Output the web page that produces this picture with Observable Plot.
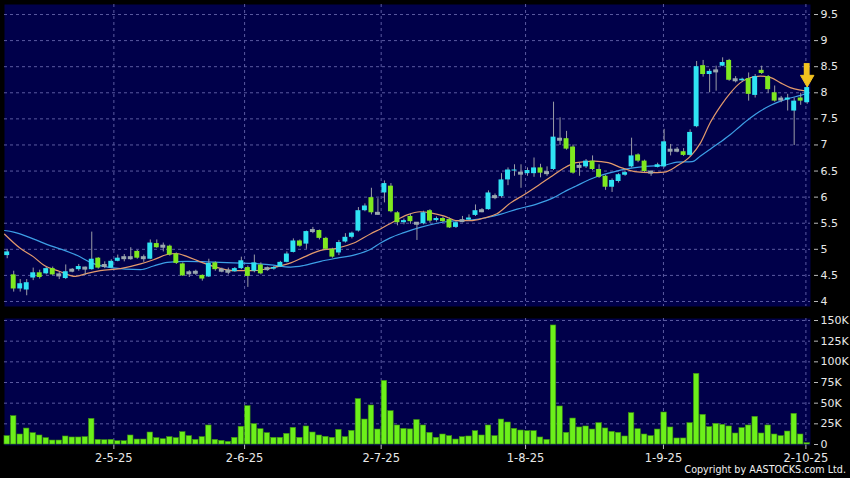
<!DOCTYPE html>
<html><head><meta charset="utf-8">
<script src="https://cdn.jsdelivr.net/npm/d3@7"></script>
<script src="https://cdn.jsdelivr.net/npm/@observablehq/plot@0.6"></script>
<style>
html,body{margin:0;padding:0;background:#000;}
#chart{position:relative;width:850px;height:478px;background:#000;overflow:hidden}
#chart svg{display:block}
#copy{position:absolute;right:4px;top:464px;color:#f2f2f2;font:9.6px "DejaVu Sans";white-space:nowrap}
</style></head>
<body><div id="chart"><div id="copy">Copyright by AASTOCKS.com Ltd.</div></div>
<script>
// ---- data ----
const opens = [4.88,4.51,4.24,4.22,4.45,4.55,4.53,4.63,4.50,4.44,4.59,4.61,4.63,4.61,4.83,4.68,4.64,4.77,4.83,4.83,4.96,4.83,4.81,5.11,5.05,
5.06,4.91,4.72,4.54,4.55,4.50,4.47,4.74,4.59,4.57,4.57,4.63,4.65,4.58,4.70,4.62,4.62,4.66,4.75,4.94,5.16,5.10,5.35,5.36,5.21,5.00,
4.93,5.14,5.23,5.35,5.74,5.99,5.68,6.08,6.21,5.70,5.51,5.63,5.49,5.49,5.74,5.55,5.59,5.57,5.42,5.54,5.56,5.65,5.73,5.76,6.00,
6.01,6.33,6.50,6.45,6.45,6.45,6.56,6.46,6.53,7.10,7.12,6.96,6.58,6.58,6.69,6.53,6.40,6.19,6.30,6.42,6.58,6.81,6.69,6.47,6.57,
6.58,6.89,6.89,6.87,6.80,7.35,8.52,8.35,8.41,8.51,8.62,8.24,8.23,8.27,7.95,8.43,8.31,8.00,7.87,7.86,7.65,7.90,7.81];
const highs = [5.00,4.58,4.42,4.42,4.64,4.60,4.66,4.66,4.56,4.70,4.63,4.71,4.66,5.33,4.84,4.76,4.80,4.89,4.90,5.03,4.98,4.89,5.18,5.18,5.12,
5.08,4.93,4.74,4.59,4.60,4.51,4.81,4.76,4.64,4.64,4.65,4.85,4.68,4.89,4.74,4.66,4.67,4.77,4.95,5.20,5.18,5.35,5.42,5.37,5.23,5.02,
5.17,5.30,5.33,5.80,5.87,6.17,5.97,6.31,6.26,5.72,5.58,5.68,5.51,5.73,5.76,5.62,5.62,5.60,5.53,5.63,5.66,5.85,5.78,6.12,6.06,
6.45,6.56,6.62,6.62,6.56,6.75,6.63,6.58,7.82,7.52,7.26,7.00,6.65,6.72,6.79,6.62,6.42,6.35,6.45,6.50,7.13,6.83,6.71,6.50,6.65,
7.30,7.01,6.95,6.93,7.29,8.60,8.62,8.45,8.51,8.67,8.64,8.31,8.28,8.38,8.35,8.51,8.33,8.13,7.93,7.97,7.90,7.99,8.12];
const lows = [4.82,4.18,4.18,4.11,4.40,4.43,4.51,4.50,4.42,4.42,4.55,4.58,4.50,4.60,4.62,4.63,4.63,4.76,4.76,4.79,4.81,4.75,4.80,5.02,4.95,
4.87,4.71,4.48,4.46,4.50,4.39,4.46,4.58,4.55,4.51,4.56,4.61,4.27,4.55,4.51,4.58,4.60,4.65,4.74,4.93,5.04,5.00,5.30,5.18,4.98,4.83,
4.88,5.12,5.20,5.33,5.72,5.66,5.65,5.89,5.70,5.45,5.47,5.48,5.17,5.47,5.50,5.52,5.51,5.40,5.40,5.51,5.54,5.63,5.70,5.75,5.95,
5.98,6.22,6.40,6.17,6.40,6.38,6.37,6.40,6.51,6.99,6.90,6.44,6.40,6.55,6.51,6.36,6.13,6.09,6.27,6.40,6.56,6.66,6.47,6.40,6.56,
6.56,6.79,6.85,6.78,6.78,7.33,8.30,8.00,8.03,8.50,8.22,8.19,8.20,7.84,7.90,8.35,7.99,7.82,7.81,7.65,6.99,7.76,7.78];
const closes = [4.95,4.24,4.34,4.36,4.55,4.46,4.63,4.51,4.50,4.57,4.59,4.67,4.63,4.81,4.64,4.68,4.77,4.83,4.83,4.83,4.83,4.83,5.12,5.03,5.05,
4.89,4.73,4.49,4.54,4.55,4.43,4.73,4.61,4.59,4.57,4.63,4.78,4.48,4.74,4.53,4.62,4.65,4.75,4.91,5.16,5.06,5.34,5.35,5.21,5.00,4.85,
5.13,5.23,5.31,5.74,5.83,5.70,5.68,6.26,5.72,5.51,5.55,5.53,5.49,5.70,5.54,5.59,5.53,5.41,5.51,5.54,5.60,5.74,5.73,6.08,6.00,
6.33,6.52,6.52,6.45,6.51,6.56,6.46,6.46,7.15,7.10,6.92,6.46,6.58,6.69,6.53,6.38,6.19,6.32,6.43,6.47,6.79,6.69,6.49,6.47,6.62,
7.06,6.89,6.89,6.80,7.24,8.50,8.35,8.41,8.41,8.58,8.24,8.24,8.26,7.97,8.31,8.37,8.06,7.84,7.87,7.90,7.84,7.84,8.10];
// volume in thousands of shares
const volumes = [10.1,34.3,12.1,19.3,13.7,10.9,7.7,4.8,4.8,9.7,8.5,8.5,8.9,31,5.6,5.2,5.6,4.0,4.0,10.9,6.0,6.0,14.5,7.7,6.4,
8.9,7.7,14.9,10.1,5.6,8.9,23,5.6,4.4,3.2,8.1,21.4,46.4,24.6,18.5,13.7,8.1,8.1,12.9,20.2,8.1,21.8,14.5,10.9,9.3,8.1,
17.7,8.9,16.5,55,30.2,47.2,18.1,77,40.3,23,18.9,18.3,29.6,23,14.1,8.1,12.1,10.1,6.0,8.9,9.7,16.1,10.9,23,10.1,
30.2,26.6,19,16.9,16.1,16.1,8.5,5.6,144,46,14.1,31.4,20.6,21.8,18.1,25.8,19.4,15.3,14.1,9.7,37.9,18.5,12.1,10.1,18.1,
38.7,20.6,7.3,7.3,25.8,85.5,35.9,21,25,23.8,21.8,13.3,19.8,23,33.5,13.3,23,12.1,10.1,15.7,37.1,12.1,1.6];
// short moving average (orange), read at candle positions
const maShortIdx = [-0.4,2,4,5.6,8,10.5,12.3,14.3,17.4,20.5,22.5,24.6,26,27.7,29.7,31.8,34.8,37.9,40.5,43.6,45.6,48.2,50.7,53.3,55.9,57.4,59.4,61.5,63.5,65.1,67.1,69.2,71.2,73.3,75.3,77.4,79.4,81.6,83.6,85.5,87.5,90.3,92.4,94.5,96.5,99,101,103,105.1,106.6,108.1,109.7,111.2,112.7,114.3,115.8,117.4,118.9,120.4,122,123];
const maShortVal = [5.29,5.02,4.86,4.70,4.58,4.48,4.54,4.59,4.63,4.72,4.80,4.90,4.92,4.86,4.76,4.67,4.59,4.59,4.64,4.74,4.85,4.98,5.02,5.12,5.30,5.39,5.53,5.66,5.72,5.70,5.64,5.55,5.55,5.60,5.68,5.89,6.04,6.22,6.39,6.55,6.66,6.69,6.66,6.56,6.49,6.47,6.48,6.60,6.79,7.04,7.43,7.75,8.00,8.19,8.29,8.32,8.29,8.19,8.10,8.05,8.03];
// long moving average (blue)
const maLongIdx = [-0.4,1,4,6.6,9,10.8,12.8,15.9,20.5,22.5,24.6,27.7,30.7,34.8,37.9,40.5,43.6,45.6,48.2,50.7,53.3,55.9,57.4,58.9,61,63.5,66.1,68.2,71.2,73.8,75.8,78.4,81.5,84,85.6,87.4,90.6,93.1,95.7,98.2,101,103,105.3,106.6,108.1,109.7,111.2,112.7,114.3,115.8,117.4,118.9,120.4,122,123];
const maLongVal = [5.36,5.33,5.20,5.07,4.97,4.88,4.75,4.65,4.61,4.68,4.75,4.77,4.76,4.74,4.73,4.70,4.66,4.69,4.77,4.83,4.89,5.00,5.12,5.22,5.32,5.42,5.50,5.54,5.56,5.61,5.67,5.77,5.87,5.99,6.10,6.21,6.39,6.48,6.55,6.59,6.61,6.67,6.68,6.79,6.92,7.06,7.20,7.36,7.52,7.65,7.76,7.84,7.90,7.95,7.99];
const priceTicks = [4,4.5,5,5.5,6,6.5,7,7.5,8,8.5,9,9.5];
const volumeTicks = [0,25000,50000,75000,100000,125000,150000];
const dateLabels = ["2-5-25","2-6-25","2-7-25","1-8-25","1-9-25","2-10-25"];
const datePos = [16.4,36.5,57.5,79.7,100.9,122.8];

// ---- styling ----
const panel = "#00004a", grid = "#5a5aa0", txt = "#e8e8e8";
const upC = "#2fe3f3", dnC = "#7fe81f", dojiC = "#9aa8ae", wickC = "#9a9ca6";
const volC = "#6cf01a";
const W = 850, ML = 4, MR = 40;
const xDom = [(ML - 6.7) / 6.504, (W - MR - 6.7) / 6.504];

const candles = opens.map((o, i) => ({i, o, h: highs[i], l: lows[i], c: closes[i], v: volumes[i] * 1000}));
const maS = maShortIdx.map((x, k) => ({x, y: maShortVal[k]}));
const maL = maLongIdx.map((x, k) => ({x, y: maLongVal[k]}));
const last = candles[candles.length - 1];
const labelOf = new Map(datePos.map((p, k) => [p, dateLabels[k]]));
const bw = 0.38;

const style = {background: "transparent", color: txt, fontFamily: "DejaVu Sans", fontSize: "11px", overflow: "visible"};

const price = Plot.plot({
  width: W, height: 310, marginLeft: ML, marginRight: MR, marginTop: 4, marginBottom: 4,
  style,
  x: {domain: xDom, axis: null, label: null},
  y: {domain: [3.904, 9.692], axis: null, label: null},
  marks: [
    Plot.frame({fill: panel, stroke: null}),
    Plot.gridY(priceTicks, {stroke: grid, strokeOpacity: 1, strokeDasharray: "3,3"}),
    Plot.gridX(datePos, {stroke: grid, strokeOpacity: 1, strokeDasharray: "3,3"}),
    Plot.axisY(priceTicks, {anchor: "right", label: null, tickSize: 4, tickPadding: 3, dx: 3, stroke: "#bbbbbb", tickFormat: d => String(d), fill: txt, fontSize: 11}),
    Plot.line(maL, {x: "x", y: "y", stroke: "#3d9fe6", strokeWidth: 1.2, curve: "monotone-x"}),
    Plot.line(maS, {x: "x", y: "y", stroke: "#e39a6c", strokeWidth: 1.2, curve: "monotone-x"}),
    Plot.ruleX(candles, {x: "i", y1: "l", y2: "h", stroke: wickC, strokeWidth: 1}),
    Plot.rect(candles.filter(d => d.o !== d.c), {
      x1: d => d.i - bw, x2: d => d.i + bw, y1: "o", y2: "c",
      fill: d => d.c > d.o ? upC : dnC
    }),
    Plot.rect(candles.filter(d => d.o === d.c), {
      x1: d => d.i - bw, x2: d => d.i + bw, y1: "o", y2: "c",
      fill: dojiC, insetTop: -1.5, insetBottom: -1.5
    }),
    // yellow arrow marking the latest session
    Plot.rect([last], {x1: d => d.i - 0.45, x2: d => d.i + 0.45, y1: d => d.h + 0.19, y2: d => d.h + 0.44, fill: "#f3c21f"}),
    Plot.dot([last], {x: "i", y: d => d.h + 0.14, symbol: "triangle", rotate: 180, r: 5, fill: "#f3c21f", stroke: "#f3c21f", strokeWidth: 1})
  ]
});

const vol = Plot.plot({
  width: W, height: 168, marginLeft: ML, marginRight: MR, marginTop: 8, marginBottom: 33,
  style,
  x: {domain: xDom, axis: null, label: null},
  y: {domain: [-1210, 152420], axis: null, label: null},
  marks: [
    Plot.frame({fill: panel, stroke: null}),
    Plot.gridY(volumeTicks.slice(1), {stroke: grid, strokeOpacity: 1, strokeDasharray: "3,3"}),
    Plot.gridX(datePos, {stroke: grid, strokeOpacity: 1, strokeDasharray: "3,3"}),
    Plot.axisY(volumeTicks, {anchor: "right", label: null, tickSize: 4, tickPadding: 3, dx: 3, stroke: "#bbbbbb", tickFormat: d => d === 0 ? "0" : (d / 1000) + "K", fill: txt, fontSize: 11}),
    Plot.axisX(datePos, {anchor: "bottom", label: null, tickSize: 4, tickPadding: 4, stroke: "#bbbbbb", tickFormat: d => labelOf.get(d), fill: txt, fontSize: 11.5}),
    Plot.rect(candles, {x1: d => d.i - 0.42, x2: d => d.i + 0.42, y1: 0, y2: "v", fill: volC, stroke: "#3d8f12", strokeWidth: 0.6})
  ]
});

const chart = document.getElementById("chart");
chart.insertBefore(vol, chart.firstChild);
chart.insertBefore(price, vol);
</script>
</body></html>
